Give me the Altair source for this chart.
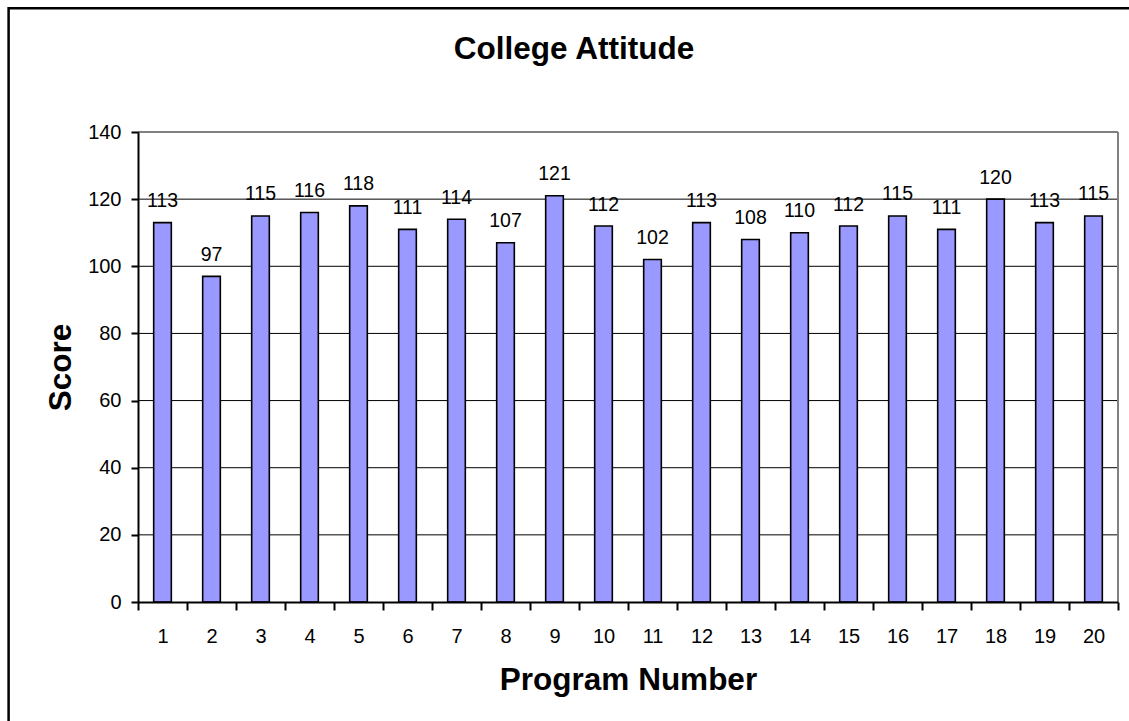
import altair as alt
import pandas as pd

title_text = "College Attitude"
programs = list(range(1, 21))
scores = [113, 97, 115, 116, 118, 111, 114, 107, 121, 112, 102, 113, 108, 110, 112, 115, 111, 120, 113, 115]
y_ticks = [0, 20, 40, 60, 80, 100, 120, 140]
grid_values = [20, 40, 60, 80, 100, 120]

df = pd.DataFrame({"program": programs, "score": scores})
grid_df = pd.DataFrame({"g": grid_values})
title_df = pd.DataFrame({"t": [title_text]})
one_df = pd.DataFrame({"a": [0]})

W, H = 980, 470
FONT = "Liberation Sans"

y_axis = alt.Axis(
    values=y_ticks, grid=False, domainColor="black", domainWidth=2,
    tickColor="black", tickWidth=2, tickSize=7,
    labelFont=FONT, labelFontSize=20, labelColor="black", labelPadding=10,
    title="Score", titleFont=FONT, titleFontSize=31.5, titleFontWeight="bold",
    titleColor="black", titleX=-68, titleY=H / 2, titleAngle=270,
    titleBaseline="alphabetic", titleAlign="center", zindex=1,
)
x_axis = alt.Axis(
    tickBand="extent", labelAngle=0, grid=False, domainColor="black", domainWidth=2,
    tickColor="black", tickWidth=2, tickSize=8,
    labelFont=FONT, labelFontSize=20, labelColor="black", labelBaseline="alphabetic",
    labelPadding=32,
    title="Program Number", titleFont=FONT, titleFontSize=31.5, titleFontWeight="bold",
    titleColor="black", titleX=W / 2, titleY=87, titleBaseline="alphabetic",
    titleAlign="center", zindex=1,
)
y_scale = alt.Scale(domain=[0, 140], nice=False, zero=True)
x_scale = alt.Scale(paddingInner=0, paddingOuter=0)

x_enc = alt.X("program:O", scale=x_scale, axis=x_axis)

grid = alt.Chart(grid_df).mark_rule(color="black", strokeWidth=1).encode(
    y=alt.Y("g:Q", scale=y_scale, axis=y_axis),
    x=alt.value(0), x2=alt.value(W),
)
top_border = alt.Chart(one_df).mark_rule(color="#808080", strokeWidth=2).encode(
    x=alt.value(0), x2=alt.value(W), y=alt.value(0)
)
right_border = alt.Chart(one_df).mark_rule(color="#808080", strokeWidth=2).encode(
    x=alt.value(W), y=alt.value(0), y2=alt.value(H)
)
bars = alt.Chart(df).mark_bar(
    fill="#9999FF", stroke="black", strokeWidth=1.6, width=alt.RelativeBandSize(0.36)
).encode(
    x=x_enc,
    y=alt.Y("score:Q", scale=y_scale, axis=y_axis),
)
labels = alt.Chart(df).mark_text(
    font=FONT, fontSize=19.5, color="black", baseline="alphabetic", align="center", dy=-15.5
).encode(
    x=x_enc,
    y=alt.Y("score:Q", scale=y_scale, axis=y_axis),
    text="score:Q",
)
title = alt.Chart(title_df).mark_text(
    font=FONT, fontSize=31.5, fontWeight="bold", color="black",
    baseline="alphabetic", align="center"
).encode(
    text="t:N", x=alt.value(574 - 138), y=alt.value(59.3 - 132)
)
outer = alt.Chart(one_df).mark_rect(filled=False, stroke="black", strokeWidth=2.5).encode(
    x=alt.value(8.6 - 138), x2=alt.value(1150 - 138),
    y=alt.value(8.2 - 132), y2=alt.value(740 - 132),
)

chart = alt.layer(grid, top_border, right_border, bars, labels, title, outer).properties(
    width=W, height=H,
    autosize=alt.AutoSizeParams(type="none"),
    padding={"left": 138, "top": 132, "right": 11, "bottom": 119},
    background="white",
).configure_view(stroke=None)

chart.save("out.html", embed_options={"renderer": "svg", "actions": False})
